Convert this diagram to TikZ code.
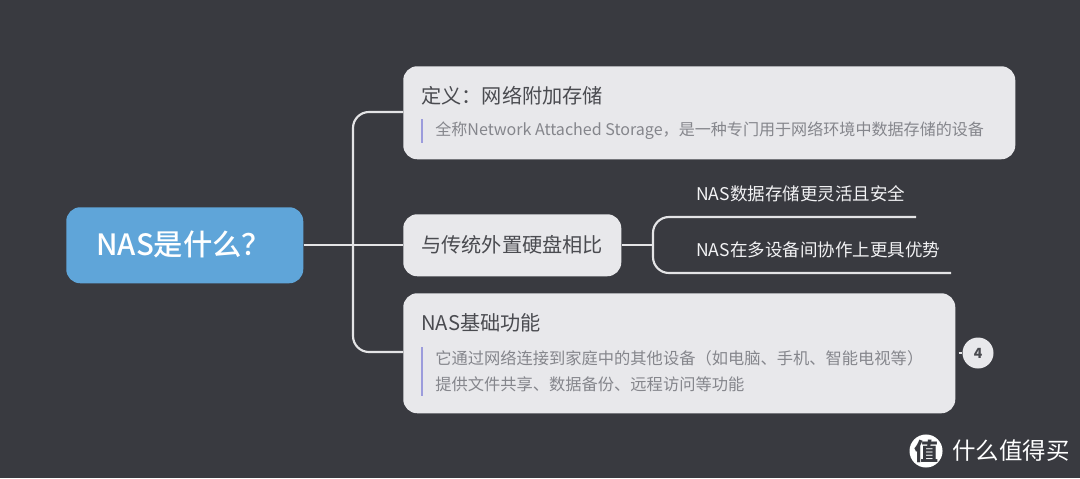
\documentclass[tikz,border=0pt]{standalone}
\usepackage{fontspec}
\setmainfont{Noto Sans CJK SC}
\newfontfamily\medfont{Noto Sans CJK SC Medium}
\definecolor{bgc}{HTML}{393A40}
\definecolor{rootc}{HTML}{5FA5D9}
\definecolor{cardc}{HTML}{E8E8EB}
\definecolor{linec}{HTML}{E4E4E6}
\definecolor{titlec}{HTML}{4A4B50}
\definecolor{subc}{HTML}{85868C}
\definecolor{barc}{HTML}{9C9CDC}
\definecolor{leafc}{HTML}{F2F2F4}
\tikzset{
  x=0.75pt,y=-0.75pt,
  card/.style={fill=cardc,rounded corners=10.5pt,inner sep=0pt,anchor=north west},
  link/.style={draw=linec,line width=1.6pt,rounded corners=12pt},
  titletext/.style={anchor=west,text=titlec,inner sep=0pt,font=\fontsize{15.15pt}{18pt}\selectfont},
  subtext/.style={anchor=west,text=subc,inner sep=0pt,font=\fontsize{12.2pt}{15pt}\selectfont},
  leaftext/.style={anchor=west,text=leafc,inner sep=0pt,font=\fontsize{13.15pt}{15pt}\selectfont},
  barline/.style={draw=barc,line width=2.2pt},
}
\begin{document}
\begin{tikzpicture}
\path[use as bounding box,fill=bgc] (0,0) rectangle (1080,478);
% nodes
\node[card,fill=rootc,minimum width=237*0.75pt,minimum height=76*0.75pt] (root) at (66,207) {};
\node[anchor=west,text=white,inner sep=0pt,font=\fontsize{22pt}{24pt}\medfont] (roottext) at (96,244.5) {NAS是什么？};
\node[card,minimum width=612*0.75pt,minimum height=93*0.75pt] (def) at (403,66) {};
\node[card,minimum width=218*0.75pt,minimum height=62*0.75pt] (cmp) at (403,214) {};
\node[card,minimum width=552*0.75pt,minimum height=120*0.75pt] (fun) at (403,293) {};
\node[titletext] (t1) at (421,95.5) {定义：网络附加存储};
\node[subtext,font=\fontsize{12.05pt}{15pt}\selectfont] (s1) at (435,131) {全称Network Attached Storage，是一种专门用于网络环境中数据存储的设备};
\node[titletext] (t2) at (421,244.5) {与传统外置硬盘相比};
\node[titletext] (t3) at (421,323) {NAS基础功能};
\node[subtext] (s3a) at (435,358) {它通过网络连接到家庭中的其他设备（如电脑、手机、智能电视等）};
\node[subtext] (s3b) at (435,384) {提供文件共享、数据备份、远程访问等功能};
\node[leaftext] (l1) at (696,194) {NAS数据存储更灵活且安全};
\node[leaftext] (l2) at (696,250) {NAS在多设备间协作上更具优势};
% accent bars
\coordinate (b1a) at (422,119); \coordinate (b1b) at (422,143);
\coordinate (b3a) at (422,347); \coordinate (b3b) at (422,396);
\draw[barline] (b1a) -- (b1b);
\draw[barline] (b3a) -- (b3b);
% connectors
\coordinate (j) at (353,245);
\coordinate (j2) at (653,245);
\coordinate (e1) at (916,217);
\coordinate (e2) at (951,273);
\draw[link] (root.east |- j) -- (cmp.west |- j);
\draw[link] (j) -- (353,112) -- (def.west |- 0,112);
\draw[link] (j) -- (353,352) -- (fun.west |- 0,352);
\draw[link] (cmp.east |- j2) -- (j2);
\draw[link] (j2) -- (653,217) -- (e1);
\draw[link] (j2) -- (653,273) -- (e2);
% collapsed count
\node[circle,fill=cardc,minimum size=31*0.75pt,inner sep=0pt,text=titlec,font=\fontsize{10.5pt}{12pt}\selectfont\bfseries] (cnt) at (978,353) {4};
\draw[link] (fun.east |- cnt) ++(3,0) -- (cnt.west);
% watermark
\node[circle,fill=white,minimum size=32*0.75pt,inner sep=0pt,text=bgc,font=\fontsize{18pt}{18pt}\selectfont\bfseries] (wm) at (926,451) {值};
\node[anchor=west,text=white,inner sep=0pt,font=\fontsize{17.6pt}{20pt}\selectfont] (wmt) at (952,451) {什么值得买};
\end{tikzpicture}
\end{document}
